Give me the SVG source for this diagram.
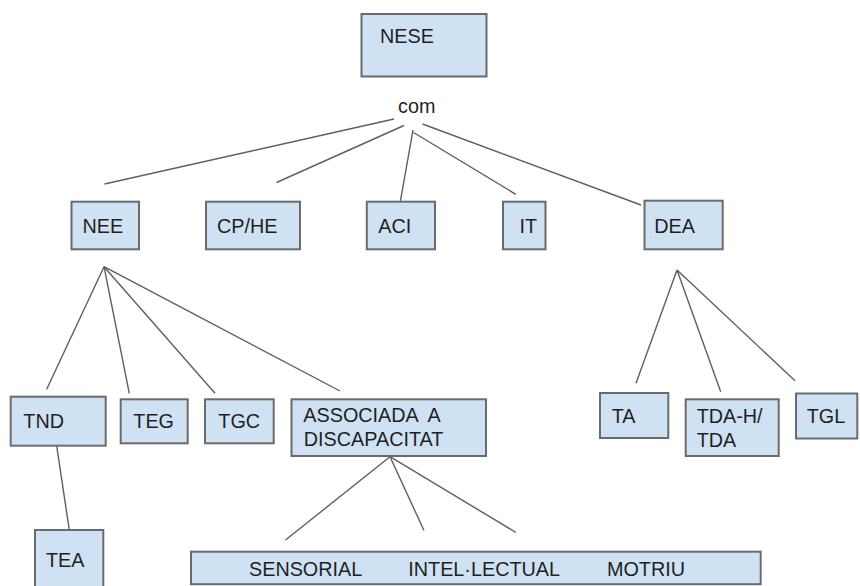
<svg xmlns="http://www.w3.org/2000/svg" width="860" height="586" viewBox="0 0 860 586">
<style>
.box{fill:#cfe2f3;stroke:#6b6b6b;stroke-width:2}
.t{font-family:"Liberation Sans",Arial,sans-serif;font-size:19.8px;fill:#1f1f1f}
.ln{stroke:#5f5f5f;stroke-width:1.4;fill:none}
</style>
<rect width="860" height="586" fill="#ffffff"/>
<g id="connectors">
<line class="ln" x1="394" y1="119" x2="104.5" y2="184"/>
<line class="ln" x1="404" y1="125.5" x2="276.5" y2="182.5"/>
<line class="ln" x1="413" y1="130" x2="400.3" y2="201.7"/>
<line class="ln" x1="413.5" y1="132.5" x2="515.8" y2="194.3"/>
<line class="ln" x1="422.5" y1="124" x2="641" y2="205"/>
<line class="ln" x1="104" y1="266.7" x2="46.7" y2="389.3"/>
<line class="ln" x1="104" y1="266.7" x2="129.3" y2="393.3"/>
<line class="ln" x1="104" y1="266.7" x2="215" y2="393.3"/>
<line class="ln" x1="104" y1="266.7" x2="340" y2="391"/>
<line class="ln" x1="56.7" y1="446" x2="69.3" y2="530"/>
<line class="ln" x1="390" y1="456.7" x2="285.5" y2="540"/>
<line class="ln" x1="390" y1="456.7" x2="424" y2="530.5"/>
<line class="ln" x1="390" y1="456.7" x2="516" y2="532.5"/>
<line class="ln" x1="677" y1="270" x2="636" y2="383.3"/>
<line class="ln" x1="677" y1="270" x2="720.7" y2="391.7"/>
<line class="ln" x1="677" y1="270" x2="795" y2="380.7"/>
</g>
<g id="nese"><rect class="box" x="361.5" y="14" width="125" height="62.5"/><text class="t" x="380" y="43">NESE</text></g>
<g id="com"><text class="t" x="398" y="113">com</text></g>
<g id="nee"><rect class="box" x="71.5" y="201.7" width="67.5" height="47.6"/><text class="t" x="82.5" y="233.3">NEE</text></g>
<g id="cphe"><rect class="box" x="206" y="201.7" width="94" height="47.6"/><text class="t" x="217" y="233.3">CP/HE</text></g>
<g id="aci"><rect class="box" x="366.8" y="201.7" width="68.2" height="47.6"/><text class="t" x="378.3" y="233.3">ACI</text></g>
<g id="it"><rect class="box" x="503" y="201.7" width="42.5" height="47.6"/><text class="t" x="519.6" y="233.3">IT</text></g>
<g id="dea"><rect class="box" x="644.5" y="200.7" width="78.2" height="48.6"/><text class="t" x="654.3" y="233.3">DEA</text></g>
<g id="tnd"><rect class="box" x="10.7" y="396.7" width="95" height="49"/><text class="t" x="23.3" y="428.3">TND</text></g>
<g id="teg"><rect class="box" x="120.7" y="399.3" width="67" height="44"/><text class="t" x="133.3" y="428.3">TEG</text></g>
<g id="tgc"><rect class="box" x="205" y="399.3" width="68.7" height="44"/><text class="t" x="218.3" y="428.3">TGC</text></g>
<g id="associada"><rect class="box" x="291.5" y="399.3" width="194.5" height="56.7"/><text class="t" x="303.3" y="422.3" xml:space="preserve">ASSOCIADA  A</text><text class="t" x="303.8" y="446">DISCAPACITAT</text></g>
<g id="tea"><rect class="box" x="35" y="530" width="68.3" height="70"/><text class="t" x="46" y="567">TEA</text></g>
<g id="discapacitats"><rect class="box" x="191" y="551.7" width="569.7" height="32.5"/><text class="t" y="576"><tspan x="249">SENSORIAL</tspan><tspan x="408.3">INTEL·LECTUAL</tspan><tspan x="607">MOTRIU</tspan></text></g>
<g id="ta"><rect class="box" x="600" y="393" width="68.3" height="45"/><text class="t" x="611.7" y="422.7">TA</text></g>
<g id="tdah"><rect class="box" x="685.7" y="399.3" width="93" height="56.7"/><text class="t" x="696.7" y="422.7">TDA-H/</text><text class="t" x="696.7" y="446.7">TDA</text></g>
<g id="tgl"><rect class="box" x="796" y="393.5" width="61.3" height="45"/><text class="t" x="806.7" y="422.7">TGL</text></g>
</svg>
